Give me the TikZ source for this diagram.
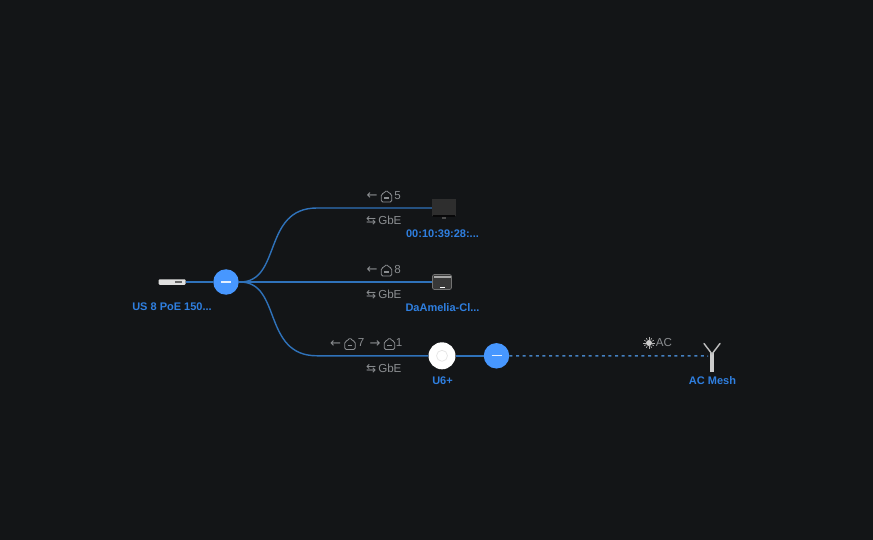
\documentclass[tikz,border=0pt]{standalone}
\usepackage{fontspec}
\setmainfont{Liberation Sans}
\newfontfamily\symfont{DejaVu Sans}
\usetikzlibrary{calc}
\definecolor{bgc}{HTML}{131517}
\definecolor{linkc}{HTML}{2F72BA}
\definecolor{nodeblue}{HTML}{4797FF}
\definecolor{labelblue}{HTML}{2F7FE0}
\definecolor{tagc}{HTML}{8B8E91}
\tikzset{
  x=1pt,y=-1pt,
  devlabel/.style={text=labelblue,font=\fontsize{11pt}{12pt}\selectfont\bfseries,inner sep=0pt,anchor=center},
  taglabel/.style={text=tagc,font=\fontsize{11.6pt}{12pt}\selectfont,inner sep=0pt,anchor=center},
  arrowlabel/.style={taglabel,font=\symfont\fontsize{13pt}{12pt}\selectfont},
  link/.style={draw=linkc,line width=1.4pt},
  wirelesslink/.style={draw=linkc!90!white,line width=1.5pt,dash pattern=on 3pt off 3.6pt},
  collapse/.style={circle,fill=nodeblue,minimum size=25.5pt,inner sep=0pt},
  minusbar/.style={draw=white!85!nodeblue,line width=1.3pt},
  portglyph/.style={draw=tagc,line width=.8pt,line join=round},
  pics/port/.style={code={
    \draw[portglyph,rounded corners=1.5pt] (-5.2,6) -- (-5.2,-2) -- (-2.6,-2.6) -- (0,-6) -- (2.6,-2.6) -- (5.2,-2) -- (5.2,6) -- cycle;
    \draw[portglyph,line width=1.1pt] (-2.4,2) -- (2.4,2);
  }}
}
\begin{document}
\begin{tikzpicture}
\useasboundingbox (0,0) rectangle (873,540);
\fill[bgc] (0,0) rectangle (873,540);

% anchors of the links
\coordinate (split) at (240,282);
% devices
\node[collapse] (c1) at (226,282) {};
\node[collapse] (c2) at (496.5,355.8) {};
\node[circle,fill=white,minimum size=27pt,inner sep=0pt] (u6) at (442,355.8) {};
\node[fill=black!82!white,minimum width=24pt,minimum height=17pt,inner sep=0pt] (mon) at (444,208) {};
\node[rounded corners=2pt,fill=black!78,draw=white!45!black,line width=.7pt,minimum width=19pt,minimum height=15pt,inner sep=0pt] (cam) at (442,282) {};
\node[rounded corners=1pt,fill=white!88!black,minimum width=27pt,minimum height=5.5pt,inner sep=0pt] (sw) at (172,282) {};
\node[fill=white!80!black,minimum width=4.5pt,minimum height=19pt,inner sep=0pt] (ant) at (712,362) {};
\coordinate (antend) at (708,356);

% links
\draw[link] (sw.east) -- (c1.west);
\draw[link] (split) .. controls (282,282) and (262,208) .. (317,208) -- (mon.west);
\draw[link] (split) -- (cam.west);
\draw[link] (split) .. controls (282,282) and (262,355.8) .. (317,355.8) -- (u6.west);
\draw[link] (c1.east) -- (split);
\draw[link] (u6.east) -- (c2.west);
\draw[wirelesslink] (c2.east) -- (antend);

% collapse minus bars
\draw[minusbar] (221,282) -- (231,282);
\draw[minusbar] (491.5,355.8) -- (501.5,355.8);

% device details
\fill[black!60!bgc] (433,215) rectangle (455,217.5);
\fill[black!70] (442,217.5) rectangle (446,219);
\fill[white!65!black] (433.5,275.5) rectangle (450.5,278);
\draw[white!55,line width=.6pt] (440,287) -- (445,287);
\fill[black!60] (175,281.2) rectangle (182,282.6);
\draw[black!10,line width=.7pt] (442,355.8) circle (5.5);
\draw[white!75!black,line width=1.4pt,line cap=round] (712,354) -- (704,343.5);
\draw[white!75!black,line width=1.4pt,line cap=round] (712,354) -- (720,343.5);

% device labels
\node[devlabel] (l1) at (172,307) {US 8 PoE 150...};
\node[devlabel] (l2) at (442.5,234) {00:10:39:28:...};
\node[devlabel] (l3) at (442.5,308) {DaAmelia-Cl...};
\node[devlabel] (l4) at (442.5,381) {U6+};
\node[devlabel] (l5) at (712.5,381) {AC Mesh};

% tags above the links
\node[arrowlabel] (a1) at (372,196.5) {←};
\pic at (386.5,196) {port};
\node[taglabel] (n1) at (397.5,195.5) {5};
\node[arrowlabel] (a2) at (372,270.5) {←};
\pic at (386.5,270) {port};
\node[taglabel] (n2) at (397.5,269.5) {8};
\node[arrowlabel] (a3) at (335.5,344) {←};
\pic at (350,343.5) {port};
\node[taglabel] (n3) at (361,343) {7};
\node[arrowlabel] (a4) at (375,344) {→};
\pic at (389.5,343.5) {port};
\node[taglabel] (n4) at (399,343) {1};

% speed tags
\node[taglabel,anchor=west] (g1) at (366,221) {{\symfont\fontsize{12pt}{12pt}\selectfont ⇆}\kern2pt GbE};
\node[taglabel,anchor=west] (g2) at (366,295) {{\symfont\fontsize{12pt}{12pt}\selectfont ⇆}\kern2pt GbE};
\node[taglabel,anchor=west] (g3) at (366,368.5) {{\symfont\fontsize{12pt}{12pt}\selectfont ⇆}\kern2pt GbE};

% wireless tag
\fill[white!80!black] (649,343) circle (3);
\foreach \a in {0,30,...,330} \draw[white!70!black,line width=.6pt] ($(649,343)+(\a:3.4)$) -- ($(649,343)+(\a:5.6)$);
\node[taglabel] (ac) at (664,343) {AC};
\end{tikzpicture}
\end{document}
